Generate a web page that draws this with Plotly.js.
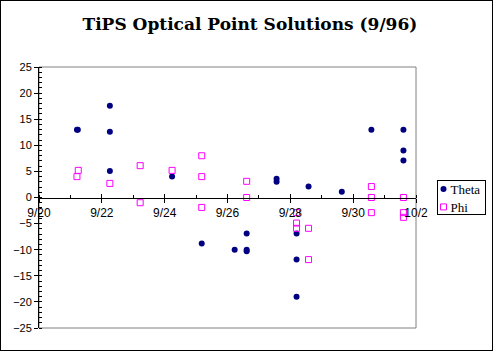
<!DOCTYPE html>
<html>
<head>
<meta charset="utf-8">
<script src="https://cdn.plot.ly/plotly-3.0.1.min.js"></script>
<style>
  html, body { margin: 0; padding: 0; background: #fff; }
  #chart { width: 491px; height: 349px; border: 1px solid #000; }
</style>
</head>
<body>
<div id="chart"></div>
<script>
// Theta observations (date/time, degrees)
const thetaDates = [
  '1996-09-21 05:00', '1996-09-21 05:40',
  '1996-09-22 06:08', '1996-09-22 06:08', '1996-09-22 06:08',
  '1996-09-24 05:40',
  '1996-09-25 04:19',
  '1996-09-26 05:28',
  '1996-09-26 14:38', '1996-09-26 14:38', '1996-09-26 14:38',
  '1996-09-27 13:30', '1996-09-27 13:30',
  '1996-09-28 04:45', '1996-09-28 04:45', '1996-09-28 04:45',
  '1996-09-28 13:55',
  '1996-09-29 15:19',
  '1996-09-30 13:55',
  '1996-10-01 14:24', '1996-10-01 14:24', '1996-10-01 14:24'
];
const thetaValues = [
  13.0, 13.0,
  17.6, 12.6, 5.1,
  4.0,
  -8.8,
  -10.0,
  -6.9, -10.0, -10.3,
  3.6, 3.0,
  -6.9, -11.9, -19.0,
  2.1,
  1.1,
  13.0,
  13.0, 9.0, 7.1
];

// Phi observations (date/time, degrees)
const phiDates = [
  '1996-09-21 06:00', '1996-09-21 05:00',
  '1996-09-22 06:08',
  '1996-09-23 05:17', '1996-09-23 05:17',
  '1996-09-24 05:40',
  '1996-09-25 04:19', '1996-09-25 04:19', '1996-09-25 04:19',
  '1996-09-26 14:38', '1996-09-26 14:38',
  '1996-09-28 04:45', '1996-09-28 04:45', '1996-09-28 04:45',
  '1996-09-28 13:55', '1996-09-28 13:55',
  '1996-09-30 13:55', '1996-09-30 13:55', '1996-09-30 13:55',
  '1996-10-01 14:24', '1996-10-01 14:24', '1996-10-01 14:24'
];
const phiValues = [
  5.2, 4.0,
  2.7,
  6.1, -1.0,
  5.2,
  8.0, 4.0, -1.9,
  3.1, 0.0,
  -2.9, -4.9, -5.9,
  -5.9, -11.9,
  2.1, 0.0, -2.9,
  0.0, -2.9, -3.8
];

const xRange = ['1996-09-20', '1996-10-02'];
const yRange = [-25, 25];
const seriesNames = ['Theta', 'Phi'];
const titleText = 'TiPS Optical Point Solutions (9/96)';

const DAY = 86400000;

const traces = [
  {
    x: thetaDates, y: thetaValues, name: seriesNames[0],
    type: 'scatter', mode: 'markers',
    marker: { symbol: 'circle', size: 6, color: '#000080', line: { width: 0 } }
  },
  {
    x: phiDates, y: phiValues, name: seriesNames[1],
    type: 'scatter', mode: 'markers',
    marker: { symbol: 'square-open', size: 6, color: '#FF00FF', line: { width: 1, color: '#FF00FF' } }
  },
  // invisible helper trace to activate overlay axes for crossing tick marks
  {
    x: [xRange[0]], y: [0], xaxis: 'x2', yaxis: 'y2',
    type: 'scatter', mode: 'markers', showlegend: false, hoverinfo: 'skip',
    marker: { opacity: 0 }
  }
];

const layout = {
  width: 491, height: 349,
  margin: { l: 38, r: 76, t: 66, b: 22, pad: 0, autoexpand: false },
  paper_bgcolor: '#fff', plot_bgcolor: '#fff',
  showlegend: true,
  title: {
    text: '<b>' + titleText + '</b>',
    font: { family: 'DejaVu Serif, serif', size: 17, color: '#000' },
    xref: 'container', x: 0.507, xanchor: 'center',
    yref: 'container', y: 0.935, yanchor: 'middle'
  },
  xaxis: {
    type: 'date', range: xRange, anchor: 'free', position: 0.5,
    showgrid: false, zeroline: false,
    showline: true, linecolor: '#000', linewidth: 1,
    tick0: xRange[0], dtick: 2 * DAY, tickformat: '%-m/%-d',
    ticks: 'outside', ticklen: 4, tickcolor: '#000', tickwidth: 1,
    minor: { dtick: DAY, ticks: 'inside', ticklen: 3, tickcolor: '#000', showgrid: false },
    tickfont: { family: 'Liberation Sans, Arial, sans-serif', size: 12, color: '#000' },
    fixedrange: true
  },
  xaxis2: {
    type: 'date', range: xRange, overlaying: 'x', anchor: 'free', position: 0.5,
    showgrid: false, zeroline: false, showline: false,
    tick0: xRange[0], dtick: 2 * DAY,
    ticks: 'inside', ticklen: 4, tickcolor: '#000', tickwidth: 1,
    showticklabels: false, fixedrange: true
  },
  yaxis: {
    range: yRange, dtick: 5, tick0: 0,
    showgrid: false, zeroline: false,
    showline: true, linecolor: '#000', linewidth: 1,
    ticks: 'outside', ticklen: 4, tickcolor: '#000', tickwidth: 1,
    minor: { dtick: 1, ticks: 'inside', ticklen: 3, tickcolor: '#000', showgrid: false },
    tickfont: { family: 'Liberation Sans, Arial, sans-serif', size: 11, color: '#000' },
    fixedrange: true
  },
  yaxis2: {
    range: yRange, overlaying: 'y', anchor: 'x', side: 'left',
    dtick: 5, tick0: 0, showgrid: false, zeroline: false, showline: false,
    ticks: 'inside', ticklen: 3, tickcolor: '#000', tickwidth: 1,
    showticklabels: false, fixedrange: true
  },
  legend: {
    xref: 'container', yref: 'container',
    x: 0.889, xanchor: 'left', y: 0.507, yanchor: 'top',
    bordercolor: '#000', borderwidth: 1, bgcolor: '#fff',
    font: { family: 'Liberation Serif, Times New Roman, serif', size: 13, color: '#000' },
    itemwidth: 30, indentation: -15, tracegroupgap: 0
  },
  shapes: [
    { type: 'rect', xref: 'paper', yref: 'paper', x0: 0, x1: 1, y0: 0, y1: 1,
      line: { color: '#808080', width: 1 }, layer: 'below' }
  ]
};

Plotly.newPlot('chart', traces, layout, { staticPlot: true, displayModeBar: false }).then(function (gd) {
  // tighten the legend to the compact look of the original
  const shiftX = 13, padTop = 7, itemPull = 2, boxH = 34;
  gd.querySelectorAll('.legend .legendtext').forEach(function (t) {
    t.setAttribute('x', parseFloat(t.getAttribute('x') || 0) - shiftX);
    t.querySelectorAll('tspan[x]').forEach(function (s) {
      s.setAttribute('x', parseFloat(s.getAttribute('x')) - shiftX);
    });
  });
  const items = gd.querySelectorAll('.legend .traces');
  if (items.length > 1) {
    const tr = items[1].getAttribute('transform') || '';
    const m = tr.match(/translate\(\s*([-\d.]+)[ ,]+([-\d.]+)\s*\)/);
    if (m) items[1].setAttribute('transform', 'translate(' + m[1] + ',' + (parseFloat(m[2]) - itemPull) + ')');
  }
  const bg = gd.querySelector('.legend rect.bg');
  if (bg) {
    bg.setAttribute('width', parseFloat(bg.getAttribute('width')) - shiftX);
    bg.setAttribute('y', parseFloat(bg.getAttribute('y') || 0) + padTop);
    bg.setAttribute('height', boxH);
  }
});
</script>
</body>
</html>
